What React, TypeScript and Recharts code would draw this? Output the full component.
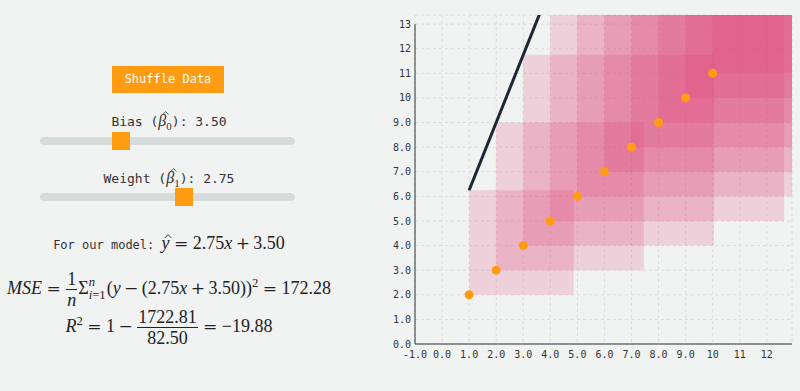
import React from "react";
import {
  ComposedChart,
  XAxis,
  YAxis,
  CartesianGrid,
  Line,
  Scatter,
  ReferenceArea,
  ReferenceLine,
} from "recharts";

const X_VALUES = [1, 2, 3, 4, 5, 6, 7, 8, 9, 10];
const Y_VALUES = [2, 3, 4, 5, 6, 7, 8, 9, 10, 11];
const BIAS = 3.5;
const WEIGHT = 2.75;
const X_TICKS = [-1, 0, 1, 2, 3, 4, 5, 6, 7, 8, 9, 10, 11, 12];
const Y_TICKS = [0, 1, 2, 3, 4, 5, 6, 7, 8, 9, 10, 11, 12, 13];
const X_DOMAIN = [-1, 12.93];
const Y_DOMAIN = [0, 13.37];
const BIAS_RANGE = [-2, 16];
const WEIGHT_RANGE = [-3, 7.1];

const BG = "#f1f2f2";
const ORANGE = "#ff9c12";
const SQUARE = "#dc3a6e";
const MONO = "'DejaVu Sans Mono', monospace";
const SERIF = "'Liberation Serif', serif";
const OPS = "'DejaVu Serif', serif";

// plot box inside the chart (px), used to keep the error squares square
const PLOT_W = 377;
const PLOT_H = 329;

const points = X_VALUES.map((x, i) => ({ x, y: Y_VALUES[i] }));
const predict = (x: number) => WEIGHT * x + BIAS;
const xMin = Math.min(...X_VALUES);
const xMax = Math.max(...X_VALUES);
const lineData = [
  { x: xMin, y: predict(xMin) },
  { x: xMax, y: predict(xMax) },
];

const pxPerX = PLOT_W / (X_DOMAIN[1] - X_DOMAIN[0]);
const pxPerY = PLOT_H / (Y_DOMAIN[1] - Y_DOMAIN[0]);
const squares = points.map((p) => {
  const r = p.y - predict(p.x);
  return {
    x1: p.x,
    x2: p.x + (Math.abs(r) * pxPerY) / pxPerX,
    y1: p.y,
    y2: p.y - r,
  };
});

const n = points.length;
const sse = points.reduce((s, p) => s + (p.y - predict(p.x)) ** 2, 0);
const meanY = Y_VALUES.reduce((a, b) => a + b, 0) / n;
const sst = Y_VALUES.reduce((s, y) => s + (y - meanY) ** 2, 0);
const mse = sse / n;
const r2 = 1 - sse / sst;

const fmt2 = (v: number) => {
  if (Math.abs(v) >= 10) return String(Math.round(v));
  return v.toFixed(1);
};

const Frac = ({ num, den }: { num: React.ReactNode; den: React.ReactNode }) => (
  <span
    style={{
      display: "inline-block",
      verticalAlign: "middle",
      textAlign: "center",
      margin: "0 1px",
    }}
  >
    <span style={{ display: "block", padding: "0 1px", lineHeight: 1.15 }}>{num}</span>
    <span
      style={{
        display: "block",
        borderTop: "1px solid #222",
        padding: "0 1px",
        lineHeight: 1.15,
      }}
    >
      {den}
    </span>
  </span>
);

const Op = ({ c, rel }: { c: string; rel?: boolean }) => (
  <span style={{ fontFamily: OPS, fontSize: "0.95em", margin: rel ? "0 0.26em" : "0 0.2em" }}>
    {c}
  </span>
);

// hat accent drawn as a small chevron over an italic letter
const Hat = ({ c, dx = 0.2, top = -0.05 }: { c: string; dx?: number; top?: number }) => (
  <span style={{ position: "relative", display: "inline-block" }}>
    <i>{c}</i>
    <svg
      width="0.45em"
      height="0.22em"
      viewBox="0 0 10 5"
      style={{ position: "absolute", left: `${dx}em`, top: `${top}em`, overflow: "visible" }}
    >
      <path d="M1,5 L5,0.8 L9,5" fill="none" stroke="currentColor" strokeWidth={1.1} />
    </svg>
  </span>
);

const Slider = ({ top, value, range }: { top: number; value: number; range: number[] }) => {
  const frac = (value - range[0]) / (range[1] - range[0]);
  return (
    <div style={{ position: "absolute", left: 40, top, width: 255, height: 8 }}>
      <div
        style={{ position: "absolute", inset: 0, background: "#d6dbdb", borderRadius: 4 }}
      />
      <div
        style={{
          position: "absolute",
          left: frac * (255 - 18),
          top: -5,
          width: 18,
          height: 18,
          background: ORANGE,
        }}
      />
    </div>
  );
};

const Beta = ({ sub }: { sub: string }) => (
  <span style={{ fontFamily: SERIF, fontSize: 16 }}>
    <Hat c={"\u03b2"} dx={0.24} top={-0.02} />
    <sub style={{ fontSize: 11 }}>{sub}</sub>
  </span>
);

const row: React.CSSProperties = {
  position: "absolute",
  left: 0,
  width: 338,
  textAlign: "center",
  whiteSpace: "nowrap",
};

export default function App() {
  return (
    <div
      style={{
        position: "absolute",
        left: 0,
        top: 0,
        width: 800,
        height: 391,
        background: BG,
        overflow: "hidden",
        color: "#333",
      }}
    >
      <div
        style={{
          position: "absolute",
          left: 112,
          top: 66,
          width: 112,
          height: 27,
          background: ORANGE,
          color: "#fff",
          fontFamily: MONO,
          fontSize: 12,
          lineHeight: "27px",
          textAlign: "center",
        }}
      >
        Shuffle Data
      </div>

      <div style={{ ...row, top: 111, fontFamily: MONO, fontSize: 13, lineHeight: "20px" }}>
        Bias (<Beta sub="0" />): {BIAS.toFixed(2)}
      </div>
      <Slider top={137} value={BIAS} range={BIAS_RANGE} />

      <div style={{ ...row, top: 168, fontFamily: MONO, fontSize: 13, lineHeight: "20px" }}>
        Weight (<Beta sub="1" />): {WEIGHT.toFixed(2)}
      </div>
      <Slider top={193} value={WEIGHT} range={WEIGHT_RANGE} />

      <div style={{ ...row, top: 231, lineHeight: "24px", color: "#222" }}>
        <span style={{ fontFamily: MONO, fontSize: 12, color: "#333" }}>For our model: </span>
        <span style={{ fontFamily: SERIF, fontSize: 18 }}>
          <Hat c="y" dx={0.12} top={0.14} />
          <Op c="=" rel />
          {WEIGHT.toFixed(2)}
          <i>x</i>
          <Op c="+" />
          {BIAS.toFixed(2)}
        </span>
      </div>

      <div
        style={{ ...row, top: 262, fontFamily: SERIF, fontSize: 18, lineHeight: "42px", color: "#222" }}
      >
        <i>MSE</i>
        <Op c="=" rel />
        <Frac num="1" den={<i>n</i>} />
        {"\u03a3"}
        <span
          style={{
            display: "inline-block",
            verticalAlign: "-0.4em",
            fontSize: "0.7em",
            lineHeight: 1.05,
            textAlign: "left",
            marginRight: 1,
          }}
        >
          <span style={{ display: "block" }}>
            <i>n</i>
          </span>
          <span style={{ display: "block" }}>
            <i>i</i>=1
          </span>
        </span>
        (<i>y</i>
        <Op c={"\u2212"} />({WEIGHT.toFixed(2)}
        <i>x</i>
        <Op c="+" />
        {BIAS.toFixed(2)}))<sup style={{ fontSize: "0.7em" }}>2</sup>
        <Op c="=" rel />
        {mse.toFixed(2)}
      </div>

      <div
        style={{ ...row, top: 300, fontFamily: SERIF, fontSize: 18, lineHeight: "42px", color: "#222" }}
      >
        <i>R</i>
        <sup style={{ fontSize: "0.7em" }}>2</sup>
        <Op c="=" rel />1<Op c={"\u2212"} />
        <Frac num={sse.toFixed(2)} den={sst.toFixed(2)} />
        <Op c="=" rel />
        {"\u2212"}
        {Math.abs(r2).toFixed(2)}
      </div>

      <div style={{ position: "absolute", left: 330, top: 0 }}>
        <ComposedChart
          width={470}
          height={391}
          margin={{ top: 15, right: 8, left: 45, bottom: 17 }}
        >
          <CartesianGrid stroke="#dadcdc" strokeDasharray="3 3" />
          <XAxis
            type="number"
            dataKey="x"
            domain={X_DOMAIN}
            ticks={X_TICKS}
            allowDataOverflow
            height={30}
            tickLine={false}
            tickSize={6}
            tickMargin={1}
            tickFormatter={fmt2}
            axisLine={{ stroke: "#333" }}
            tick={{ fontFamily: MONO, fontSize: 10, fill: "#333" }}
          />
          <YAxis
            type="number"
            dataKey="y"
            domain={Y_DOMAIN}
            ticks={Y_TICKS}
            allowDataOverflow
            width={40}
            tickLine={false}
            tickSize={2}
            tickMargin={2}
            tickFormatter={fmt2}
            axisLine={false}
            tick={{ fontFamily: MONO, fontSize: 10, fill: "#333" }}
          />
          {squares.map((s, i) => (
            <ReferenceArea
              key={i}
              x1={s.x1}
              x2={s.x2}
              y1={s.y1}
              y2={s.y2}
              fill={SQUARE}
              fillOpacity={0.18}
              stroke="none"
              ifOverflow="hidden"
            />
          ))}
          <ReferenceLine
            segment={[
              { x: X_DOMAIN[0], y: Y_TICKS[0] },
              { x: X_DOMAIN[0], y: Y_TICKS[Y_TICKS.length - 1] },
            ]}
            stroke="#333"
          />
          <Line
            data={lineData}
            dataKey="y"
            type="linear"
            stroke="#1c2735"
            strokeWidth={3}
            dot={false}
            activeDot={false}
            isAnimationActive={false}
          />
          <Scatter
            data={points}
            dataKey="y"
            fill={ORANGE}
            isAnimationActive={false}
            shape={(p: any) => <circle cx={p.cx} cy={p.cy} r={4.5} fill={ORANGE} />}
          />
        </ComposedChart>
      </div>
    </div>
  );
}
